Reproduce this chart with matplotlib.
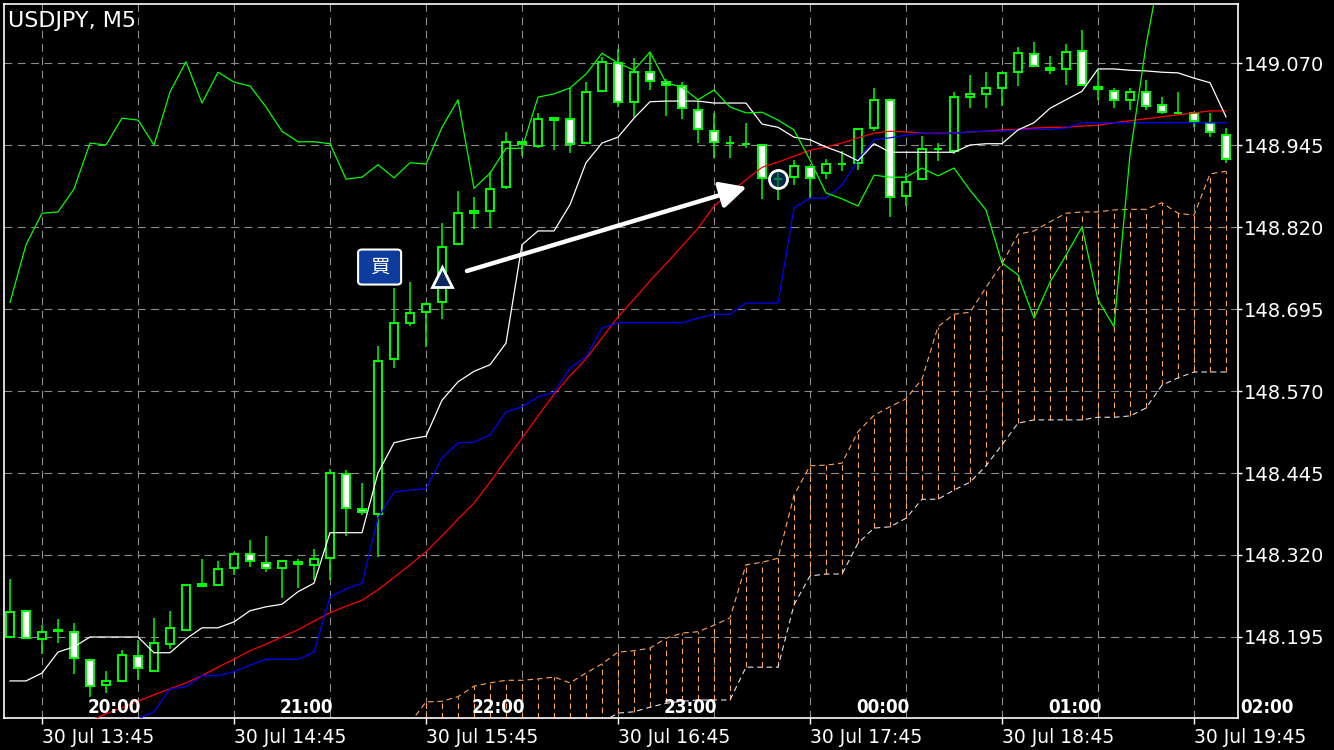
import numpy as np
import matplotlib
matplotlib.use('Agg')
import matplotlib.pyplot as plt
from matplotlib.patches import Rectangle, FancyBboxPatch

# ---- data (USDJPY M5) ----
opens = [148.195, 148.235, 148.192, 148.204, 148.203, 148.160, 148.122, 148.128, 148.166, 148.143,
         148.185, 148.206, 148.273, 148.274, 148.300, 148.322, 148.308, 148.300, 148.310, 148.305,
         148.316, 148.444, 148.390, 148.383, 148.619, 148.674, 148.691, 148.706, 148.794, 148.842,
         148.844, 148.881, 148.950, 148.944, 148.986, 148.985, 148.948, 149.027, 149.070, 149.011,
         149.056, 149.041, 149.035, 148.999, 148.966, 148.948, 148.947, 148.945, 148.893, 148.896,
         148.912, 148.902, 148.916, 148.918, 148.971, 149.014, 148.867, 148.893, 148.939, 148.936,
         149.018, 149.023, 149.032, 149.056, 149.084, 149.062, 149.061, 149.088, 149.033, 149.027,
         149.014, 149.026, 149.006, 148.994, 148.994, 148.979, 148.960]
highs = [148.284, 148.236, 148.214, 148.223, 148.217, 148.161, 148.143, 148.175, 148.191, 148.224,
         148.235, 148.276, 148.314, 148.311, 148.325, 148.343, 148.349, 148.313, 148.314, 148.329,
         148.451, 148.450, 148.430, 148.639, 148.727, 148.736, 148.706, 148.826, 148.875, 148.866,
         148.904, 148.965, 148.950, 148.994, 148.986, 149.032, 149.041, 149.079, 149.091, 149.078,
         149.087, 149.046, 149.041, 149.012, 148.994, 148.959, 148.979, 148.945, 148.904, 148.922,
         148.912, 148.924, 148.936, 148.971, 149.032, 149.014, 148.902, 148.959, 148.948, 149.026,
         149.052, 149.056, 149.055, 149.094, 149.102, 149.081, 149.099, 149.120, 149.059, 149.032,
         149.032, 149.044, 149.018, 149.026, 148.994, 148.994, 148.971]
lows = [148.194, 148.193, 148.169, 148.186, 148.139, 148.104, 148.110, 148.127, 148.130, 148.142,
        148.177, 148.206, 148.271, 148.273, 148.290, 148.302, 148.294, 148.255, 148.270, 148.282,
        148.282, 148.349, 148.381, 148.317, 148.605, 148.669, 148.637, 148.680, 148.793, 148.817,
        148.819, 148.878, 148.928, 148.940, 148.937, 148.933, 148.947, 149.027, 149.003, 148.988,
        149.029, 148.989, 148.985, 148.948, 148.925, 148.925, 148.940, 148.863, 148.861, 148.884,
        148.863, 148.893, 148.905, 148.907, 148.966, 148.835, 148.852, 148.893, 148.921, 148.931,
        149.001, 149.001, 149.004, 149.035, 149.065, 149.053, 149.036, 149.036, 149.014, 149.001,
        148.998, 148.999, 148.992, 148.992, 148.972, 148.957, 148.918]
closes = [148.233, 148.194, 148.203, 148.205, 148.163, 148.121, 148.128, 148.168, 148.148, 148.186,
          148.209, 148.274, 148.276, 148.299, 148.322, 148.311, 148.300, 148.311, 148.306, 148.314,
          148.445, 148.392, 148.386, 148.616, 148.674, 148.689, 148.703, 148.790, 148.841, 148.844,
          148.878, 148.950, 148.947, 148.985, 148.983, 148.947, 149.026, 149.072, 149.011, 149.056,
          149.043, 149.036, 149.001, 148.969, 148.950, 148.948, 148.947, 148.895, 148.893, 148.913,
          148.895, 148.916, 148.916, 148.969, 149.014, 148.866, 148.889, 148.939, 148.939, 149.018,
          149.023, 149.032, 149.055, 149.085, 149.065, 149.059, 149.087, 149.036, 149.030, 149.014,
          149.026, 149.004, 148.995, 148.994, 148.982, 148.965, 148.924]

tenkan = [148.128, 148.128, 148.140, 148.172, 148.180, 148.195, 148.195, 148.195, 148.195, 148.171,
          148.171, 148.192, 148.209, 148.209, 148.218, 148.235, 148.241, 148.245, 148.264, 148.277,
          148.354, 148.354, 148.354, 148.445, 148.491, 148.497, 148.501, 148.556, 148.584, 148.600,
          148.610, 148.643, 148.793, 148.814, 148.814, 148.854, 148.918, 148.948, 148.957, 148.986,
          149.011, 149.012, 149.012, 149.012, 149.009, 149.009, 149.009, 148.977, 148.972, 148.957,
          148.953, 148.942, 148.933, 148.921, 148.947, 148.934, 148.934, 148.934, 148.934, 148.934,
          148.945, 148.947, 148.947, 148.968, 148.979, 149.001, 149.014, 149.027, 149.061, 149.061,
          149.059, 149.058, 149.056, 149.055, 149.047, 149.040, 148.988]
kijun = [None] * 8 + [
          148.070, 148.081,
          148.116, 148.119, 148.136, 148.136, 148.142, 148.152, 148.161, 148.161, 148.161, 148.172,
          148.256, 148.268, 148.277, 148.376, 148.416, 148.419, 148.421, 148.468, 148.491, 148.492,
          148.503, 148.538, 148.546, 148.561, 148.568, 148.605, 148.622, 148.666, 148.674, 148.674,
          148.674, 148.674, 148.674, 148.681, 148.687, 148.687, 148.704, 148.704, 148.704, 148.849,
          148.864, 148.864, 148.884, 148.922, 148.953, 148.956, 148.960, 148.963, 148.962, 148.963,
          148.965, 148.966, 148.966, 148.968, 148.969, 148.969, 148.971, 148.979, 148.979, 148.979,
          148.979, 148.979, 148.979, 148.979, 148.979, 148.979, 148.979]
red_ma = [None] * 5 + [
          148.067, 148.078, 148.087, 148.097, 148.107,
          148.116, 148.125, 148.136, 148.149, 148.161, 148.174, 148.184, 148.195, 148.206, 148.219,
          148.232, 148.242, 148.251, 148.267, 148.286, 148.305, 148.325, 148.349, 148.375, 148.399,
          148.431, 148.465, 148.498, 148.532, 148.565, 148.593, 148.619, 148.651, 148.683, 148.710,
          148.738, 148.764, 148.791, 148.818, 148.852, 148.872, 148.892, 148.911, 148.919, 148.928,
          148.937, 148.942, 148.948, 148.956, 148.963, 148.966, 148.965, 148.963, 148.963, 148.963,
          148.965, 148.966, 148.968, 148.969, 148.971, 148.972, 148.972, 148.974, 148.975, 148.979,
          148.982, 148.985, 148.988, 148.991, 148.994, 148.997, 148.997]
chikou = [148.705, 148.793, 148.841, 148.843, 148.878, 148.948, 148.945, 148.986, 148.983, 148.945,
          149.026, 149.072, 149.009, 149.056, 149.041, 149.035, 149.003, 148.966, 148.950, 148.950,
          148.947, 148.893, 148.896, 148.915, 148.895, 148.918, 148.916, 148.972, 149.014, 148.879,
          148.902, 148.940, 148.940, 149.018, 149.023, 149.032, 149.053, 149.085, 149.070, 149.059,
          149.087, 149.040, 149.033, 149.014, 149.029, 149.003, 148.994, 148.995, 148.983, 148.968,
          148.922, 148.872, 148.863, 148.852, 148.899, 148.896, 148.896, 148.910, 148.898, 148.910,
          148.876, 148.846, 148.765, 148.747, 148.681, 148.736, 148.777, 148.820, 148.709, 148.668,
          148.930, 149.097, 149.227]
span_a = [None] * 25 + [
          148.064, 148.096, 148.097, 148.104, 148.120,
          148.125, 148.129, 148.129, 148.131, 148.134, 148.125, 148.140, 148.154, 148.172, 148.174,
          148.178, 148.193, 148.201, 148.203, 148.213, 148.224, 148.305, 148.309, 148.315, 148.411,
          148.456, 148.457, 148.460, 148.508, 148.533, 148.546, 148.558, 148.588, 148.668, 148.687,
          148.690, 148.728, 148.764, 148.809, 148.814, 148.828, 148.841, 148.843, 148.843, 148.846,
          148.847, 148.847, 148.857, 148.841, 148.838, 148.901, 148.905]
span_b = [None] * 37 + [
          148.065, 148.079, 148.081,
          148.088, 148.094, 148.097, 148.099, 148.099, 148.099, 148.149, 148.149, 148.149, 148.244,
          148.288, 148.291, 148.291, 148.338, 148.361, 148.363, 148.376, 148.405, 148.405, 148.419,
          148.431, 148.456, 148.488, 148.521, 148.526, 148.526, 148.526, 148.526, 148.530, 148.530,
          148.532, 148.544, 148.579, 148.590, 148.599, 148.599, 148.599]

price_ticks = [148.195, 148.320, 148.445, 148.570, 148.695, 148.820, 148.945, 149.070]
date_idx = [2, 14, 26, 38, 50, 62, 74]
date_labels = ["30 Jul 13:45", "30 Jul 14:45", "30 Jul 15:45", "30 Jul 16:45",
               "30 Jul 17:45", "30 Jul 18:45", "30 Jul 19:45"]
hour_idx = [8, 20, 32, 44, 56, 68, 80]
hour_labels = ["20:00", "21:00", "22:00", "23:00", "00:00", "01:00", "02:00"]
grid_idx = list(range(2, 77, 6))

buy_label_pos = (23.1, 148.759)
buy_entry = (27, 148.744)
arrow_from = (28.56, 148.753)
arrow_to = (46.06, 148.881)
exit_point = (48, 148.893)

# ---- figure ----
W, H = 1334, 750
fig = plt.figure(figsize=(W / 100, H / 100), dpi=100, facecolor='black')
ax = fig.add_axes([4 / W, 32 / H, 1234 / W, 714 / H])
ax.set_facecolor('black')
ax.set_xlim(-0.375, 76.75)
ax.set_ylim(148.0715, 149.160)

idx = np.arange(len(opens))
f = lambda v: np.array(v, dtype=float)

# grid
for y in price_ticks:
    ax.axhline(y, color='#8c8c8c', lw=0.8, ls=(0, (7, 5)), zorder=1)
for x in grid_idx:
    ax.axvline(x, color='#8c8c8c', lw=0.8, ls=(0, (7, 5)), zorder=1)

# cloud
orange = '#ffa55a'
a = f(span_a)
b = f(span_b)
ymin = ax.get_ylim()[0]
has_a = ~np.isnan(a)
bot = np.where(np.isnan(b), ymin, b)
ax.vlines(idx[has_a], bot[has_a], a[has_a], colors=orange, lw=0.8,
          linestyles=(0, (5, 3.5)), zorder=2)
ax.plot(idx, a, color=orange, lw=0.8, ls=(0, (5, 3.5)), zorder=2)
ax.plot(idx, b, color='#e8dcec', lw=0.8, ls=(0, (5, 3.5)), zorder=2)

# candles
green = '#00ff00'
ax.vlines(idx, lows, highs, colors=green, lw=1.1, zorder=3)
for i in idx:
    o, c = opens[i], closes[i]
    fc = 'black' if c > o else 'white'
    ax.add_patch(Rectangle((i - 0.28, min(o, c)), 0.56, abs(c - o),
                           facecolor=fc, edgecolor=green, lw=1.4, zorder=3.5))

# indicator lines
ax.plot(idx, f(red_ma), color='#ff0000', lw=0.9, zorder=4)
ax.plot(idx, f(kijun), color='#0000ff', lw=0.9, zorder=4)
ax.plot(idx, f(tenkan), color='white', lw=0.9, zorder=4)
ax.plot(np.arange(len(chikou)), chikou, color=green, lw=0.9, zorder=4)

# trade marks
bw, bh = 2.69, 0.0534
ax.add_patch(FancyBboxPatch((buy_label_pos[0] - bw / 2, buy_label_pos[1] - bh / 2), bw, bh,
                            boxstyle='round,pad=0,rounding_size=0.25', mutation_aspect=0.02,
                            facecolor='#0d3c9e', edgecolor='white', lw=1.5, zorder=6))
ax.text(buy_label_pos[0], buy_label_pos[1], '買', color='white', fontsize=14,
        ha='center', va='center', family=['Noto Sans CJK JP', 'DejaVu Sans'], zorder=7)
ax.plot(*buy_entry, marker='^', ms=15, mfc='#082a5e', mec='white', mew=2, zorder=6)
ax.annotate('', xy=arrow_to, xytext=arrow_from, zorder=6,
            arrowprops=dict(arrowstyle='-|>,head_length=0.8,head_width=0.4', color='white',
                            lw=3.2, shrinkA=0, shrinkB=0, mutation_scale=20))
ax.plot(*exit_point, marker='o', ms=13, mfc=(0.0, 0.25, 0.45, 0.6), mec='white', mew=2, zorder=6)

# axes styling
for s in ax.spines.values():
    s.set_color('white')
    s.set_linewidth(1.2)
ax.yaxis.tick_right()
ax.set_yticks(price_ticks)
ax.set_yticklabels([f'{p:.3f}' for p in price_ticks])
ax.tick_params(axis='y', colors='white', length=3, width=1, labelsize=14, pad=1.5)
ax.set_xticks(date_idx)
ax.set_xticklabels(date_labels, ha='left')
ax.tick_params(axis='x', colors='white', length=4.5, width=1, labelsize=13.5, pad=2.5)

tr = ax.get_xaxis_transform()
for x, lab in zip(hour_idx, hour_labels):
    ax.text(x + 0.2, 0.015, lab, transform=tr, ha='right', va='center', color='white',
            fontsize=13.5, fontweight='bold', fontstretch='condensed', clip_on=False, zorder=8)

fig.text(8 / W, 1 - 21 / H, 'USDJPY, M5', color='white', fontsize=16, ha='left', va='center')

fig.savefig('out.png', dpi=100, facecolor='black')
